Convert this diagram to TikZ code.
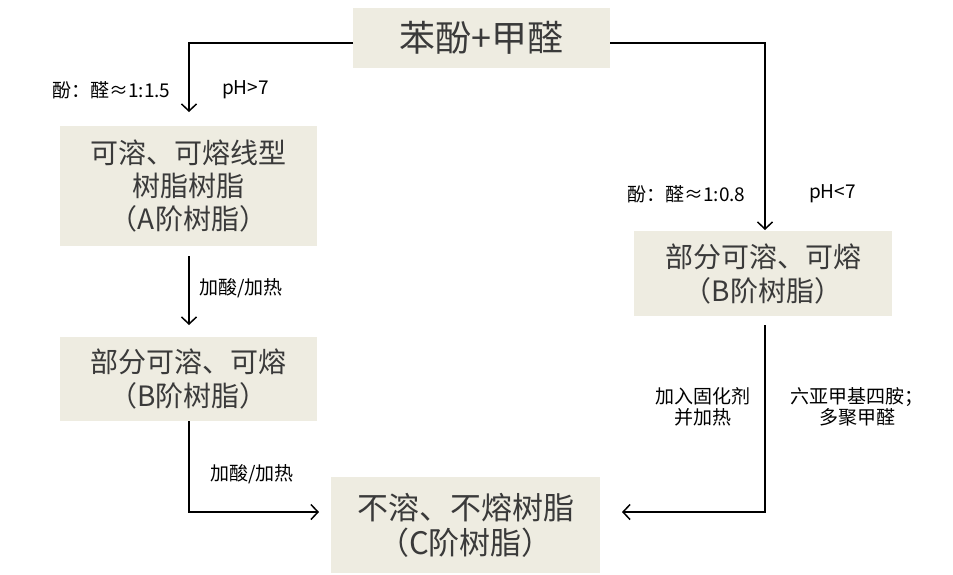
\documentclass[tikz,border=0pt]{standalone}
\usepackage{fontspec}
\setmainfont{Noto Sans CJK SC}
\usetikzlibrary{arrows.meta}
\begin{document}
\begin{tikzpicture}[x=1pt,y=-1pt,
  box/.style={fill=boxfill, text=boxtext, align=center, inner sep=0pt},
  lbl/.style={text=black, font=\fontsize{19}{21}\selectfont, align=center, inner sep=0pt},
  conn/.style={draw=black, line width=1.5pt},
  arr/.style={conn, -{Straight Barb[length=7pt,width=15pt,line width=1.5pt]}}]
\definecolor{boxfill}{HTML}{EEECE1}
\definecolor{boxtext}{HTML}{3A3A3A}
\useasboundingbox (0,0) rectangle (953,574);
% boxes
\node[box, minimum width=257pt, minimum height=60pt, font=\fontsize{36}{40}\selectfont] (top) at (481.5,38) {苯酚+甲醛};
\node[box, minimum width=257pt, minimum height=120pt, font=\fontsize{28}{33}\selectfont] (A) at (188.5,186) {可溶、可熔线型\\树脂树脂\\（A阶树脂）};
\node[box, minimum width=257pt, minimum height=84pt, font=\fontsize{28}{34}\selectfont] (BL) at (188.5,379) {部分可溶、可熔\\（B阶树脂）};
\node[box, minimum width=258pt, minimum height=85pt, font=\fontsize{28}{34}\selectfont] (BR) at (763,273.5) {部分可溶、可熔\\（B阶树脂）};
\node[box, minimum width=269pt, minimum height=96pt, font=\fontsize{31}{35}\selectfont] (C) at (465.5,525) {不溶、不熔树脂\\（C阶树脂）};
% coordinates
\coordinate (tl) at (353,43);
\coordinate (k1) at (189,43);
\coordinate (a1) at (189,112);
\coordinate (tr) at (610,43);
\coordinate (k2) at (765,43);
\coordinate (a2) at (765,230);
\coordinate (s3) at (189,256);
\coordinate (a3) at (189,325);
\coordinate (s4) at (189,421);
\coordinate (k4) at (189,512);
\coordinate (a4) at (319,512);
\coordinate (s5) at (765,325);
\coordinate (k5) at (765,512);
\coordinate (a5) at (622,512);
% connectors
\draw[arr] (tl) -- (k1) -- (a1);
\draw[arr] (tr) -- (k2) -- (a2);
\draw[arr] (s3) -- (a3);
\draw[arr] (s4) -- (k4) -- (a4);
\draw[arr] (s5) -- (k5) -- (a5);
% labels
\node[lbl, anchor=west] (l1) at (52,90) {酚：醛≈1:1.5};
\node[lbl, anchor=west] (l2) at (222,90) {pH>7};
\node[lbl, anchor=west] (l3) at (627,194) {酚：醛≈1:0.8};
\node[lbl, anchor=west] (l4) at (809,194) {pH<7};
\node[lbl, anchor=west] (l5) at (199,288) {加酸/加热};
\node[lbl, anchor=west] (l6) at (210,474) {加酸/加热};
\node[lbl] (l7) at (703,407) {加入固化剂\\并加热};
\node[lbl] (l8) at (857,407) {六亚甲基四胺；\\多聚甲醛};
\end{tikzpicture}
\end{document}
